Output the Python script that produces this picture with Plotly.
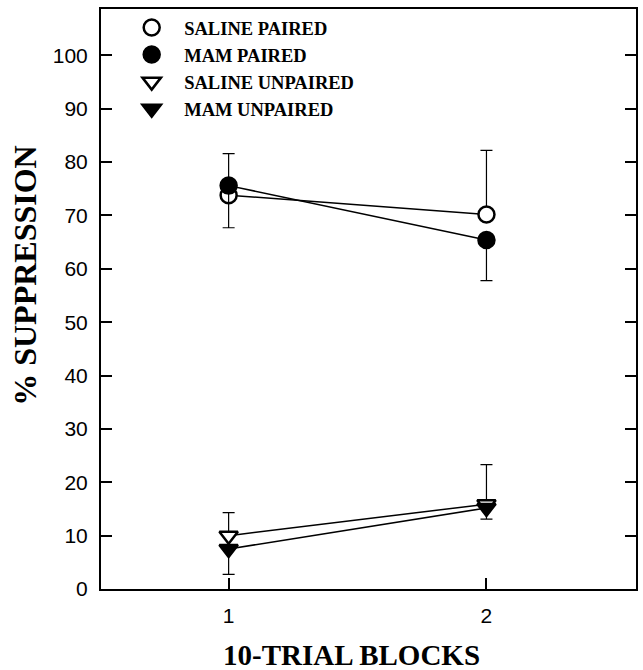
import plotly.graph_objects as go

blocks = [1, 2]
saline_paired = [73.8, 70.2]
saline_paired_err_up = [7.8, 12.0]
mam_paired = [75.6, 65.4]
mam_paired_err_down = [7.9, 7.6]
saline_unpaired = [10.0, 15.9]
saline_unpaired_err_up = [4.3, 7.4]
mam_unpaired = [7.5, 15.2]
mam_unpaired_err_down = [4.75, 2.1]

names = ["SALINE PAIRED", "MAM PAIRED", "SALINE UNPAIRED", "MAM UNPAIRED"]
y_ticks = [0, 10, 20, 30, 40, 50, 60, 70, 80, 90, 100]

series = [
    (names[0], saline_paired, saline_paired_err_up, None, "circle", "white", 16),
    (names[1], mam_paired, None, mam_paired_err_down, "circle", "black", 16),
    (names[2], saline_unpaired, saline_unpaired_err_up, None, "triangle-down", "white", 16),
    (names[3], mam_unpaired, None, mam_unpaired_err_down, "triangle-down", "black", 16),
]

fig = go.Figure()
for name, vals, up, down, sym, fill, size in series:
    fig.add_trace(go.Scatter(x=blocks, y=vals, mode="lines",
                             line=dict(color="black", width=1.5),
                             showlegend=False, hoverinfo="skip"))
for i, (name, vals, up, down, sym, fill, size) in enumerate(series):
    err = dict(type="data", symmetric=False,
               array=up if up is not None else [0, 0],
               arrayminus=down if down is not None else [0, 0],
               color="black", thickness=1.2, width=6)
    fig.add_trace(go.Scatter(x=blocks, y=vals, mode="markers", name=name,
                             legendgroup=str(i),
                             marker=dict(symbol=sym, size=size, color=fill,
                                         line=dict(color="black", width=2.5)),
                             error_y=err))

serif = "Liberation Serif"
sans = "Liberation Sans"

fig.update_layout(
    width=643, height=670,
    margin=dict(l=101, r=5, t=9, b=81),
    plot_bgcolor="white", paper_bgcolor="white",
    showlegend=True,
    legend=dict(x=0.034, y=1.0, xanchor="left", yanchor="top",
                font=dict(family=serif, size=18.5, color="black", weight="bold"),
                traceorder="grouped", tracegroupgap=0,
                bgcolor="rgba(0,0,0,0)", itemwidth=55),
    xaxis=dict(range=[0.505, 2.58], tickvals=blocks, ticktext=[str(b) for b in blocks],
               ticks="inside", ticklen=11, tickwidth=2, tickcolor="black",
               showline=True, linecolor="black", linewidth=2, mirror=True,
               showgrid=False, zeroline=False, ticklabelstandoff=7,
               tickfont=dict(family=sans, size=21, color="black")),
    yaxis=dict(range=[0, 108.7], tickvals=y_ticks,
               ticks="inside", ticklen=11, tickwidth=2, tickcolor="black",
               showline=True, linecolor="black", linewidth=2, mirror="ticks",
               showgrid=False, zeroline=False, ticklabelstandoff=7,
               tickfont=dict(family=sans, size=21, color="black")),
    annotations=[
        dict(text="% SUPPRESSION", xref="paper", yref="paper",
             x=-0.141, y=0.541, textangle=-90, showarrow=False,
             xanchor="center", yanchor="middle",
             font=dict(family=serif, size=32, color="black", weight="bold")),
        dict(text="10-TRIAL BLOCKS", xref="paper", yref="paper",
             x=0.469, y=-0.114, showarrow=False,
             xanchor="center", yanchor="middle",
             font=dict(family=serif, size=29, color="black", weight="bold")),
    ],
)

fig.write_html("out.html")
